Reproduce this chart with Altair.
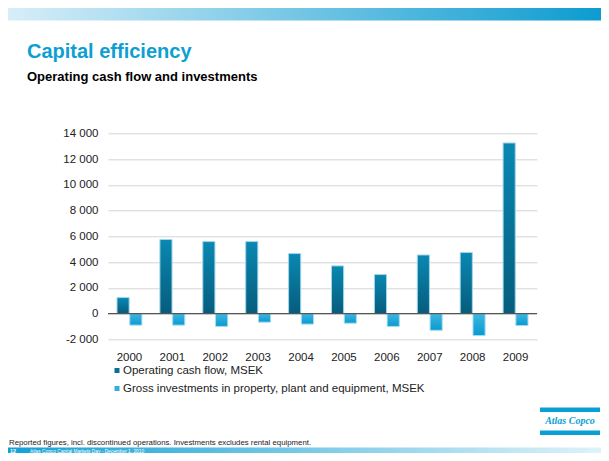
import altair as alt
import pandas as pd

# ---------------- data ----------------
years = [str(y) for y in range(2000, 2010)]
ocf = [1240, 5750, 5590, 5590, 4660, 3700, 3030, 4550, 4740, 13250]
inv = [-900, -900, -1000, -670, -820, -750, -1000, -1300, -1710, -930]
series = ["Operating cash flow, MSEK",
          "Gross investments in property, plant and equipment, MSEK"]
y_ticks = list(range(-2000, 14001, 2000))

title_txt = "Capital efficiency"
subtitle_txt = "Operating cash flow and investments"
footnote_txt = "Reported figures, incl. discontinued operations. Investments excludes rental equipment."
footer_num = "12"
footer_txt = "Atlas Copco Capital Markets Day - December 1, 2010"
logo_txt = "Atlas Copco"

df = pd.DataFrame({
    "year": years * 2,
    "series": [series[0]] * len(years) + [series[1]] * len(years),
    "value": ocf + inv,
})

# ---------------- layout ----------------
W, H = 429, 206
OX, OY = 108, 133.3          # page-image coordinates of the plot origin
def px(v): return v - OX
def py(v): return v - OY

FONT = "Liberation Sans"
one = pd.DataFrame({"a": [0]})

def grad(c1, c2, horizontal=False):
    return alt.Gradient(
        gradient="linear",
        stops=[alt.GradientStop(color=c1, offset=0), alt.GradientStop(color=c2, offset=1)],
        x1=0, y1=0, x2=1 if horizontal else 0, y2=0 if horizontal else 1,
    )

y_scale = alt.Scale(domain=[-2000, 14000], nice=False)

x_enc = alt.X("year:O", title=None,
              scale=alt.Scale(paddingInner=0.42, paddingOuter=0.21),
              axis=alt.Axis(labelAngle=0, domain=False, ticks=False, labelPadding=12,
                            labelFontSize=11.5, labelColor="#222", labelFont=FONT))
xo_enc = alt.XOffset("series:N", scale=alt.Scale(domain=series, paddingInner=0.05, paddingOuter=0))
y_enc = alt.Y("value:Q", title=None, scale=y_scale,
              axis=alt.Axis(values=y_ticks, tickCount=len(y_ticks), grid=True,
                            gridColor="#d4d4d4", gridWidth=1,
                            domain=False, ticks=False, labelPadding=10, labelOverlap=False,
                            labelFontSize=11.5, labelColor="#222", labelFont=FONT,
                            labelExpr="replace(replace(format(datum.value, ','), ',', ' '), '\u2212', '-')"))

bars_ocf = alt.Chart(df).transform_filter(alt.datum.series == series[0]).mark_bar(
    color=grad("#0a88b2", "#065c7c"), stroke="#9fd6ea", strokeWidth=1
).encode(x=x_enc, xOffset=xo_enc, y=y_enc)

bars_inv = alt.Chart(df).transform_filter(alt.datum.series == series[1]).mark_bar(
    color=grad("#3fb7e1", "#0a9acf"), stroke="#a6dcef", strokeWidth=1
).encode(x=x_enc, xOffset=xo_enc, y=y_enc)

zero = alt.Chart(pd.DataFrame({"value": [0]})).mark_rule(color="#555555", strokeWidth=1.3).encode(y=y_enc)

def rect(x1, x2, y1, y2, fill):
    return alt.Chart(one).mark_rect(color=fill).encode(
        x=alt.value(px(x1)), x2=alt.value(px(x2)), y=alt.value(py(y1)), y2=alt.value(py(y2)))

def text(t, x, y, size, color="#222", bold=False, italic=False, font=FONT, align="left", baseline="alphabetic"):
    kw = dict(text=t, font=font, fontSize=size, color=color, align=align, baseline=baseline)
    if bold:
        kw["fontWeight"] = "bold"
    if italic:
        kw["fontStyle"] = "italic"
    return alt.Chart(one).mark_text(**kw).encode(x=alt.value(px(x)), y=alt.value(py(y)))

top_band = rect(6, 609, 8, 20.5, grad("#d8eef8", "#0a9bcf", horizontal=True))
bottom_band = rect(6, 609, 447.5, 461, grad("#12a0d4", "#e2f3fa", horizontal=True))

title = text(title_txt, 27, 58, 20, color="#0e9fd2", bold=True)
subtitle = text(subtitle_txt, 27, 81, 13, color="#000", bold=True)

leg1_sq = rect(114.5, 119.5, 368, 373, "#0b6f93")
leg2_sq = rect(114.5, 119.5, 386, 391, "#2cb0dc")
leg1_tx = text(series[0], 123, 370.7, 11.5, baseline="middle")
leg2_tx = text(series[1], 123, 388.7, 11.5, baseline="middle")

footnote = text(footnote_txt, 9, 444.5, 7.8)
f_num = text(footer_num, 10, 452.5, 5.5, color="white", bold=True)
f_txt = text(footer_txt, 30, 452.5, 4.8, color="white")

logo_bar1 = rect(540, 600, 407.5, 412, "#0a9fd4")
logo_bar2 = rect(540, 600, 430.5, 435, "#0a9fd4")
logo_tx = text(logo_txt, 570, 421, 10, color="#0a9fd4", bold=True, italic=True,
               font="Liberation Serif", align="center", baseline="middle")

chart = alt.layer(
    top_band, bottom_band,
    bars_ocf, bars_inv, zero,
    title, subtitle, leg1_sq, leg2_sq, leg1_tx, leg2_tx,
    footnote, f_num, f_txt, logo_bar1, logo_bar2, logo_tx,
).properties(
    width=W, height=H,
    autosize=alt.AutoSizeParams(type="none"),
    padding={"left": 100, "top": 125.3, "right": 64, "bottom": 113.7},
    background="white",
).configure_view(stroke=None)

chart.save("out.html", embed_options={"renderer": "svg", "actions": False})
